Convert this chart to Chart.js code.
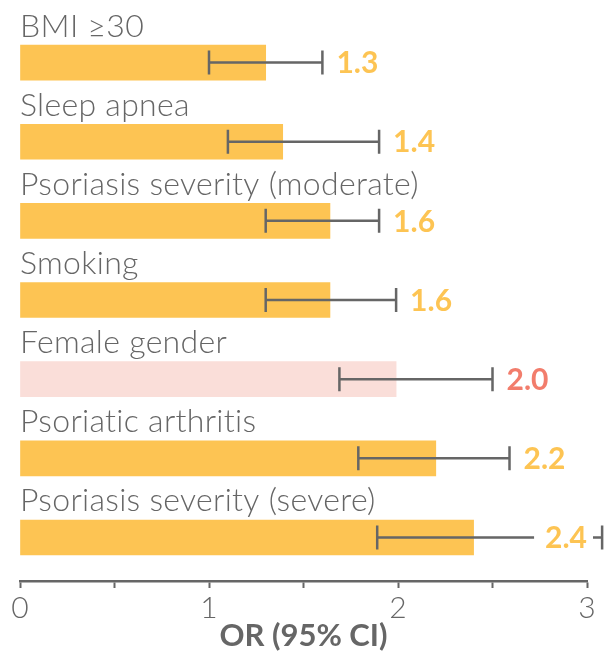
<!DOCTYPE html>
<html><head><meta charset="utf-8">
<script src="https://cdn.jsdelivr.net/npm/chart.js@4"></script>
<style>html,body{margin:0;padding:0;background:#fff}</style>
</head><body><canvas id="c" width="608" height="653"></canvas>
<script>
const categories = ["BMI \u226530","Sleep apnea","Psoriasis severity (moderate)","Smoking","Female gender","Psoriatic arthritis","Psoriasis severity (severe)"];
const oddsRatios = [1.3, 1.39, 1.64, 1.64, 1.99, 2.2, 2.4];
const ciLower = [1.0, 1.1, 1.3, 1.3, 1.69, 1.79, 1.89];
const ciUpper = [1.6, 1.9, 1.9, 1.99, 2.5, 2.59, 3.08];
const valueLabels = ["1.3","1.4","1.6","1.6","2.0","2.2","2.4"];
const xTickLabels = [0, 1, 2, 3];
const highlighted = ["Female gender"];

const ORANGE = '#FDC453', PINK_BAR = '#FADED9', PINK_TEXT = '#F27D6C', GREY = '#666666';
const FONT = 'Lato, "Open Sans", sans-serif';

const overlay = {
  id: 'overlay',
  afterDraw(chart) {
    const ctx = chart.ctx, xs = chart.scales.x, area = chart.chartArea;
    const meta = chart.getDatasetMeta(0);
    ctx.save();
    meta.data.forEach((bar, i) => {
      const y = bar.y, top = y - bar.height / 2;
      const hl = highlighted.includes(categories[i]);
      ctx.font = '300 32px ' + FONT;
      if ('letterSpacing' in ctx) ctx.letterSpacing = '0.3px';
      ctx.fillStyle = GREY; ctx.textAlign = 'left'; ctx.textBaseline = 'alphabetic';
      ctx.fillText(categories[i], area.left, top - 8.5);
      if ('letterSpacing' in ctx) ctx.letterSpacing = '0px';
      const x1 = xs.getPixelForValue(ciLower[i]), x2 = xs.getPixelForValue(ciUpper[i]);
      ctx.strokeStyle = GREY; ctx.lineWidth = 2.5; ctx.lineCap = 'butt';
      ctx.beginPath();
      ctx.moveTo(x1, y); ctx.lineTo(x2, y);
      ctx.moveTo(x1, y - 12); ctx.lineTo(x1, y + 12);
      ctx.moveTo(x2, y - 12); ctx.lineTo(x2, y + 12);
      ctx.stroke();
      ctx.font = '700 30px ' + FONT;
      const w = ctx.measureText(valueLabels[i]).width;
      let lx = x2 + 14;
      if (lx + w > area.right) {
        lx = area.right - w;
        ctx.fillStyle = '#fff';
        ctx.fillRect(lx - 11, y - 14, w + 17, 28);
      }
      ctx.fillStyle = hl ? PINK_TEXT : ORANGE;
      ctx.textBaseline = 'middle';
      ctx.fillText(valueLabels[i], lx, y + 1);
    });
    ctx.restore();
  }
};

new Chart(document.getElementById('c'), {
  type: 'bar',
  data: {
    datasets: [{
      data: oddsRatios.map((v, i) => ({ x: v, y: i })),
      backgroundColor: ctx => highlighted.includes(categories[ctx.dataIndex]) ? PINK_BAR : ORANGE,
      borderWidth: 0,
      barThickness: 35
    }]
  },
  options: {
    indexAxis: 'y',
    responsive: false,
    animation: false,
    devicePixelRatio: 1,
    layout: { padding: { left: 20, right: 21, top: 23, bottom: 0 } },
    plugins: { legend: { display: false }, tooltip: { enabled: false } },
    scales: {
      y: { type: 'linear', reverse: true, min: -0.5, max: 6.55, offset: false, grid: { offset: false }, display: false },
      x: {
        type: 'linear', min: 0, max: 3,
        afterFit(s) { s.height = 72; },
        ticks: {
          stepSize: 0.5, autoSkip: false, maxRotation: 0, padding: 2, color: GREY,
          font: { family: FONT, size: 30, weight: '300' },
          callback: v => xTickLabels.includes(v) ? String(v) : ''
        },
        grid: { drawOnChartArea: false, drawTicks: true, tickLength: 7, tickColor: GREY, tickWidth: 2 },
        border: { display: true, color: GREY, width: 2.5 },
        title: {
          display: true, text: 'OR (95% CI)', color: GREY,
          font: { family: FONT, size: 31, weight: '700' },
          padding: { top: 0, bottom: -2 }
        }
      }
    }
  },
  plugins: [overlay]
});
</script>
</body></html>
